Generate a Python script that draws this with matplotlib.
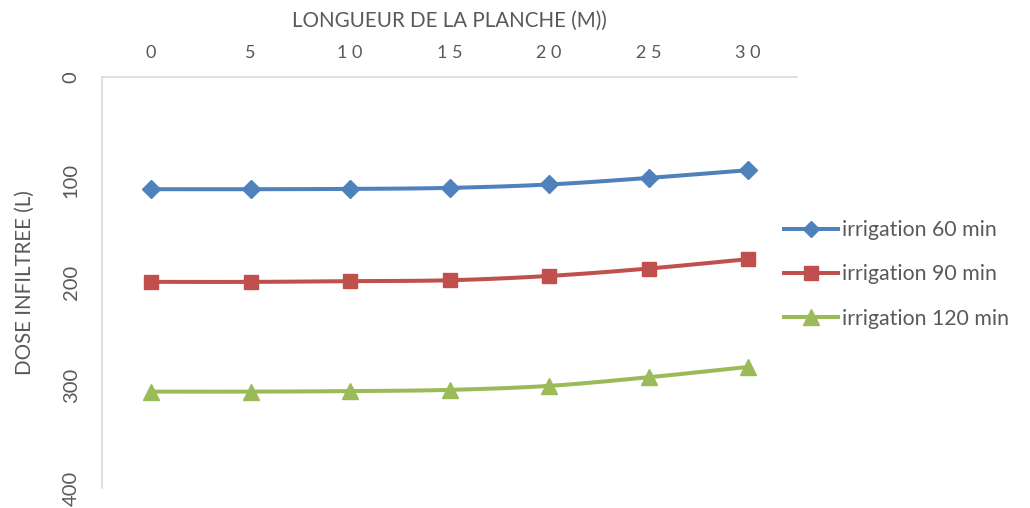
import matplotlib as mpl
import numpy as np

mpl.use("Agg")
import matplotlib.pyplot as plt

plt.rcParams["font.family"] = ["Lato", "DejaVu Sans"]

longueur = [0, 5, 10, 15, 20, 25, 30]
series_names = ["irrigation 60 min", "irrigation 90 min", "irrigation 120 min"]
dose_60 = [109, 109, 108.7, 107.7, 104.4, 98, 90.5]
dose_90 = [199.2, 199.2, 198.5, 197.6, 193.4, 186.2, 177.1]
dose_120 = [306, 306, 305.5, 304.3, 300.4, 292, 282]

colors = ["#4F81BD", "#C0504D", "#9BBB59"]
markers = ["D", "s", "^"]
msizes = [9.5, 10.5, 12]
text_color = "#595959"


def smooth(x, y, n=20):
    # Catmull-Rom style smoothing, like Excel's smoothed line
    x = np.asarray(x, float)
    y = np.asarray(y, float)
    px = np.concatenate([[2 * x[0] - x[1]], x, [2 * x[-1] - x[-2]]])
    py = np.concatenate([[2 * y[0] - y[1]], y, [2 * y[-1] - y[-2]]])
    xs, ys = [], []
    t = np.linspace(0, 1, n)
    for i in range(1, len(px) - 2):
        for p, out in ((px, xs), (py, ys)):
            p0, p1, p2, p3 = p[i - 1], p[i], p[i + 1], p[i + 2]
            out.extend(
                0.5 * ((2 * p1) + (-p0 + p2) * t
                       + (2 * p0 - 5 * p1 + 4 * p2 - p3) * t ** 2
                       + (-p0 + 3 * p1 - 3 * p2 + p3) * t ** 3)
            )
    return xs, ys


fig = plt.figure(figsize=(10.30, 5.08), dpi=100)
ax = fig.add_axes([0.099, 0.039, 0.675, 0.809])

for vals, name, c, m, ms in zip([dose_60, dose_90, dose_120], series_names, colors, markers, msizes):
    sx, sy = smooth(longueur, vals)
    ax.plot(sx, sy, color=c, linewidth=2.9, solid_capstyle="round", zorder=2)
    ax.plot(longueur, vals, linestyle="none", marker=m, markersize=ms, color=c, zorder=3)
    ax.plot([], [], color=c, linewidth=2.9, marker=m, markersize=ms - 1, label=name)

ax.set_xlim(-2.47, 32.47)
ax.set_ylim(400, 0)
ax.set_xticks(longueur)
ax.set_xticklabels([" ".join(str(v)) for v in longueur])
ax.set_yticks([0, 100, 200, 300, 400])
ax.xaxis.tick_top()
ax.xaxis.set_label_position("top")
ax.tick_params(axis="x", length=0, labelsize=13, colors=text_color, pad=12)
ax.tick_params(axis="y", length=0, labelsize=14.5, colors=text_color, pad=16)
for lbl in ax.get_yticklabels():
    lbl.set_rotation(90)
    lbl.set_va("center")

for side in ("right", "bottom"):
    ax.spines[side].set_visible(False)
for side in ("left", "top"):
    ax.spines[side].set_color("#D9D9D9")
    ax.spines[side].set_linewidth(1.2)

ax.set_xlabel("LONGUEUR DE LA PLANCHE (M))", fontsize=14.8, color=text_color, labelpad=13)
ax.set_ylabel("DOSE INFILTREE (L)", fontsize=14.8, color=text_color, labelpad=20)

leg = ax.legend(loc="center left", bbox_to_anchor=(0.981, 0.52), frameon=False,
                fontsize=15.3, labelcolor=text_color, handlelength=2.55,
                handletextpad=0.2, labelspacing=1.15, borderaxespad=0, borderpad=0)

fig.savefig("out.png", dpi=100)
